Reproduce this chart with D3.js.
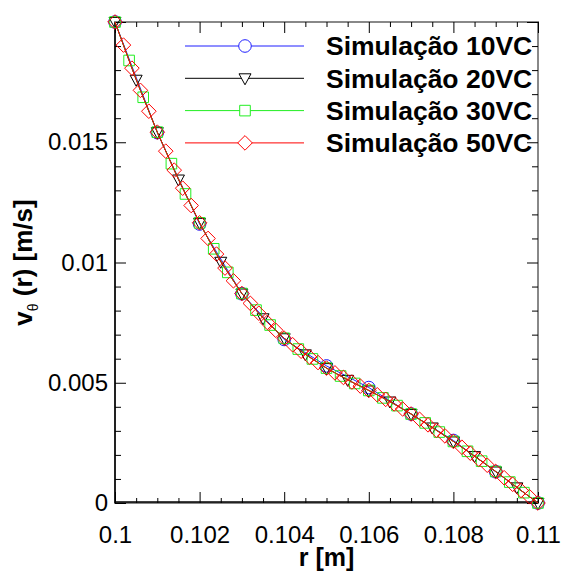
<!DOCTYPE html>
<html>
<head>
<meta charset="utf-8">
<script src="https://cdn.jsdelivr.net/npm/d3@7"></script>
<style>
  body { margin: 0; background: #fff; }
  text { font-family: "Liberation Sans", Arial, sans-serif; }
</style>
</head>
<body>
<svg id="chart" width="564" height="571"></svg>
<script>
// values (v in m/s, r from 0.1 to 0.11 m)
const v10 = [0.02, 0.0154, 0.0116, 0.0087, 0.0068, 0.0057, 0.0048, 0.0037, 0.0026, 0.0013, 0];
const v20 = [0.02, 0.0176, 0.01542, 0.01345, 0.01165, 0.01003, 0.00871, 0.00768, 0.00685, 0.00618,
             0.00561, 0.00512, 0.00468, 0.00422, 0.0037, 0.00314, 0.00256, 0.00195, 0.00131, 0.00065, 0];
const v30 = [0.02, 0.0184, 0.01687, 0.01542, 0.01411, 0.01285, 0.01165, 0.01057, 0.00959, 0.00871,
             0.00802, 0.0074, 0.00685, 0.0064, 0.00599, 0.00561, 0.00528, 0.00497, 0.00468, 0.00437,
             0.00405, 0.0037, 0.00333, 0.00295, 0.00256, 0.00215, 0.00174, 0.00131, 0.00087, 0.00043, 0];
const v50 = [0.02, 0.01904, 0.01808, 0.01716, 0.01629, 0.01542, 0.01463, 0.01384, 0.01309, 0.01237,
             0.01165, 0.011, 0.01035, 0.00977, 0.00924, 0.00871, 0.0083, 0.00789, 0.00751, 0.00718,
             0.00685, 0.00658, 0.00631, 0.00607, 0.00584, 0.00561, 0.00541, 0.00522, 0.00503, 0.00486,
             0.00468, 0.0045, 0.00431, 0.00412, 0.00391, 0.0037, 0.00348, 0.00325, 0.00302, 0.00279,
             0.00256, 0.00232, 0.00207, 0.00182, 0.00157, 0.00131, 0.00105, 0.00078, 0.00052, 0.00026, 0];
const seriesNames = ["Simulação 10VC", "Simulação 20VC", "Simulação 30VC", "Simulação 50VC"];
const rStart = 0.1, rEnd = 0.11;
const xMajor = [0.1, 0.102, 0.104, 0.106, 0.108, 0.11];
const xLabels = ["0.1", "0.102", "0.104", "0.106", "0.108", "0.11"];
const yMajor = [0, 0.005, 0.01, 0.015, 0.02];
const yLabels = ["0", "0.005", "0.01", "0.015", ""];

// r positions: evenly spaced nodes across the radius span
function rNodes(vals) {
  let n = vals.length - 1;
  return vals.map((v, i) => ({r: rStart + (rEnd - rStart) * i / n, v: v}));
}

let svg = d3.select("#chart");
let margin = {top: 22, left: 115, right: 26, bottom: 68};
let width = 564 - margin.left - margin.right;
let height = 571 - margin.top - margin.bottom;

let x = d3.scaleLinear().domain([rStart, rEnd]).range([0, width]);
let y = d3.scaleLinear().domain([0, 0.02]).range([height, 0]);

let g = svg.append("g").attr("transform", "translate(" + margin.left + "," + margin.top + ")");

// frame
g.append("rect").attr("x", 0).attr("y", 0).attr("width", width).attr("height", height)
  .attr("fill", "none").attr("stroke", "#888").attr("stroke-width", 2);

let xMinor = d3.range(0, 21).map(i => rStart + i * 0.0005).filter(t => !xMajor.some(m => Math.abs(m - t) < 1e-9));
let yMinor = d3.range(0, 21).map(i => i * 0.001).filter(t => !yMajor.some(m => Math.abs(m - t) < 1e-9));

function styleAxis(sel) {
  sel.select(".domain").remove();
  sel.selectAll("line").attr("stroke", "#000").attr("stroke-width", 1);
  sel.selectAll("text").attr("fill", "#000").style("font-size", "24px");
}

// bottom
g.append("g").attr("transform", "translate(0," + height + ")")
  .call(d3.axisBottom(x).tickValues(xMajor).tickSize(-11).tickPadding(23)
    .tickFormat((d, i) => xLabels[i])).call(styleAxis);
g.append("g").attr("transform", "translate(0," + height + ")")
  .call(d3.axisBottom(x).tickValues(xMinor).tickSize(-5).tickFormat("")).call(styleAxis);
// top
g.append("g").call(d3.axisTop(x).tickValues(xMajor).tickSize(-11).tickFormat("")).call(styleAxis);
g.append("g").call(d3.axisTop(x).tickValues(xMinor).tickSize(-5).tickFormat("")).call(styleAxis);
// left
g.append("g").call(d3.axisLeft(y).tickValues(yMajor).tickSize(-11).tickPadding(7)
    .tickFormat((d, i) => yLabels[i])).call(styleAxis);
g.append("g").call(d3.axisLeft(y).tickValues(yMinor).tickSize(-6).tickFormat("")).call(styleAxis);
// right
g.append("g").attr("transform", "translate(" + width + ",0)")
  .call(d3.axisRight(y).tickValues(yMajor).tickSize(-11).tickFormat("")).call(styleAxis);
g.append("g").attr("transform", "translate(" + width + ",0)")
  .call(d3.axisRight(y).tickValues(yMinor).tickSize(-6).tickFormat("")).call(styleAxis);

// black left and bottom axis lines
g.append("line").attr("x1", 0).attr("x2", 0).attr("y1", 0).attr("y2", height).attr("stroke", "#000").attr("stroke-width", 1.5);
g.append("line").attr("x1", 0).attr("x2", width).attr("y1", height - 1).attr("y2", height - 1).attr("stroke", "#000").attr("stroke-width", 1.5);

// axis titles
svg.append("text").attr("x", margin.left + width / 2).attr("y", 566)
  .attr("text-anchor", "middle").style("font-size", "25px").style("font-weight", "bold").text("r [m]");

let yt = svg.append("text").attr("transform", "translate(32," + (margin.top + height / 2) + ") rotate(-90)")
  .attr("text-anchor", "middle").style("font-size", "26px").style("font-weight", "bold");
yt.append("tspan").text("v");
yt.append("tspan").attr("dy", 6).style("font-size", "14px").style("font-weight", "normal").text("θ");
yt.append("tspan").attr("dy", -6).text(" (r) [m/s]");

// markers
function markerPath(type) {
  if (type === "circle") return "M6.3,0A6.3,6.3 0 1,1 -6.3,0A6.3,6.3 0 1,1 6.3,0Z";
  if (type === "tri") return "M-6,-4.5L6,-4.5L0,6.5Z";
  if (type === "square") return "M-5.3,-5.3L5.3,-5.3L5.3,5.3L-5.3,5.3Z";
  return "M0,-7.3L7.3,0L0,7.3L-7.3,0Z";
}

let series = [
  {name: seriesNames[0], pts: rNodes(v10), color: "#1f1fff", marker: "circle"},
  {name: seriesNames[1], pts: rNodes(v20), color: "#000000", marker: "tri"},
  {name: seriesNames[2], pts: rNodes(v30), color: "#22ee22", marker: "square"},
  {name: seriesNames[3], pts: rNodes(v50), color: "#ff0000", marker: "diamond"}
];

let line = d3.line().x(d => x(d.r)).y(d => y(d.v)).curve(d3.curveLinear);

series.forEach(s => {
  let sg = g.append("g");
  sg.append("path").datum(s.pts).attr("d", line)
    .attr("fill", "none").attr("stroke", s.color).attr("stroke-width", 1);
  sg.selectAll(".mk").data(s.pts).enter().append("path")
    .attr("class", "mk")
    .attr("transform", d => "translate(" + x(d.r) + "," + y(d.v) + ")")
    .attr("d", markerPath(s.marker))
    .attr("fill", "none").attr("stroke", s.color).attr("stroke-width", 1);
});

// legend
let leg = svg.append("g");
series.forEach((s, i) => {
  let ly = 46 + i * 32.3;
  leg.append("line").attr("x1", 185).attr("x2", 304).attr("y1", ly).attr("y2", ly)
    .attr("stroke", s.color).attr("stroke-width", 1);
  leg.append("path").attr("transform", "translate(245," + ly + ")").attr("d", markerPath(s.marker))
    .attr("fill", "#fff").attr("stroke", s.color).attr("stroke-width", 1);
  leg.append("text").attr("x", 326).attr("y", ly).attr("dy", "0.35em")
    .style("font-size", "26.5px").style("font-weight", "bold").text(s.name);
});
</script>
</body>
</html>
